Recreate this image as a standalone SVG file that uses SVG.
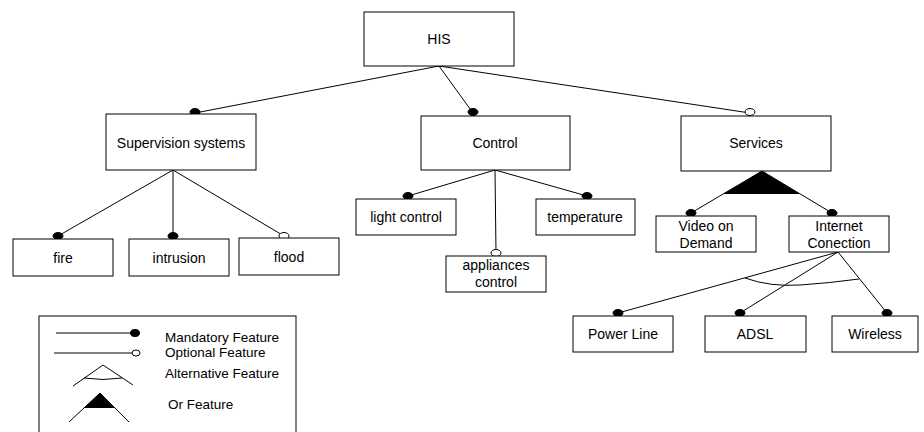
<svg xmlns="http://www.w3.org/2000/svg" width="924" height="432" viewBox="0 0 924 432">
<style>
.box{fill:#fff;stroke:#000;stroke-width:1}
.t{font-family:"Liberation Sans",Arial,sans-serif;font-size:14px;fill:#000;text-anchor:middle}
.lt{font-family:"Liberation Sans",Arial,sans-serif;font-size:13.5px;fill:#000}
.ln{stroke:#000;stroke-width:1;fill:none}
.m{fill:#000;stroke:#000}
.o{fill:#fff;stroke:#000;stroke-width:1}
</style>
<rect width="924" height="432" fill="#fff"/>
<g id="connectors">
<line class="ln" x1="439" y1="66" x2="195" y2="113"/>
<line class="ln" x1="439" y1="66" x2="473" y2="113"/>
<line class="ln" x1="439" y1="66" x2="750" y2="113"/>
<line class="ln" x1="173" y1="170" x2="58" y2="236"/>
<line class="ln" x1="173" y1="170" x2="173" y2="236"/>
<line class="ln" x1="173" y1="170" x2="284" y2="236"/>
<line class="ln" x1="495" y1="170" x2="408" y2="196"/>
<line class="ln" x1="495" y1="170" x2="587" y2="196"/>
<line class="ln" x1="495" y1="170" x2="496" y2="253"/>
<line class="ln" x1="762" y1="171" x2="691" y2="213"/>
<line class="ln" x1="762" y1="171" x2="832" y2="213"/>
<polygon points="762,171 723,194 800,194" fill="#000"/>
<line class="ln" x1="838" y1="252" x2="618" y2="313"/>
<line class="ln" x1="838" y1="252" x2="740" y2="313"/>
<line class="ln" x1="838" y1="252" x2="887" y2="313"/>
<path class="ln" d="M745,278 Q770,287 800,285 Q830,283 859,279"/>
<ellipse class="m" cx="195" cy="112" rx="5" ry="3.5"/>
<ellipse class="m" cx="473" cy="112" rx="5" ry="3.5"/>
<ellipse class="o" cx="750" cy="112" rx="5" ry="3.5"/>
<ellipse class="m" cx="58" cy="236" rx="5" ry="3.5"/>
<ellipse class="m" cx="173" cy="236" rx="5" ry="3.5"/>
<ellipse class="o" cx="284" cy="236" rx="5" ry="3.5"/>
<ellipse class="m" cx="408" cy="196" rx="5" ry="3.5"/>
<ellipse class="m" cx="587" cy="196" rx="5" ry="3.5"/>
<ellipse class="o" cx="496" cy="253" rx="5" ry="3.5"/>
<ellipse class="m" cx="691" cy="213" rx="5" ry="3.5"/>
<ellipse class="m" cx="832" cy="213" rx="5" ry="3.5"/>
<ellipse class="m" cx="618" cy="313" rx="5" ry="3.5"/>
<ellipse class="m" cx="740" cy="313" rx="5" ry="3.5"/>
<ellipse class="m" cx="887" cy="313" rx="5" ry="3.5"/>
</g>
<g id="his"><rect class="box" x="364" y="12" width="150" height="54"/><text class="t" x="439" y="44">HIS</text></g>
<g id="supervision"><rect class="box" x="106" y="114" width="150" height="56"/><text class="t" x="181" y="148">Supervision systems</text></g>
<g id="control"><rect class="box" x="421" y="116" width="149" height="54"/><text class="t" x="495" y="148">Control</text></g>
<g id="services"><rect class="box" x="681" y="116" width="150" height="55"/><text class="t" x="756" y="148">Services</text></g>
<g id="fire"><rect class="box" x="13" y="239" width="100" height="37"/><text class="t" x="63" y="263">fire</text></g>
<g id="intrusion"><rect class="box" x="129" y="239" width="100" height="37"/><text class="t" x="179" y="263">intrusion</text></g>
<g id="flood"><rect class="box" x="239" y="238" width="100" height="37"/><text class="t" x="289" y="262">flood</text></g>
<g id="light"><rect class="box" x="356" y="199" width="100" height="36"/><text class="t" x="406" y="222">light control</text></g>
<g id="temperature"><rect class="box" x="536" y="199" width="99" height="36"/><text class="t" x="585" y="222">temperature</text></g>
<g id="appliances"><rect class="box" x="446" y="256" width="100" height="36"/><text class="t" x="496" y="270">appliances</text><text class="t" x="496" y="287">control</text></g>
<g id="video"><rect class="box" x="656" y="216" width="100" height="36"/><text class="t" x="706" y="231">Video on</text><text class="t" x="706" y="248">Demand</text></g>
<g id="internet"><rect class="box" x="789" y="216" width="100" height="36"/><text class="t" x="839" y="231">Internet</text><text class="t" x="839" y="248">Conection</text></g>
<g id="powerline"><rect class="box" x="573" y="316" width="100" height="36"/><text class="t" x="623" y="339">Power Line</text></g>
<g id="adsl"><rect class="box" x="705" y="316" width="101" height="36"/><text class="t" x="755" y="339">ADSL</text></g>
<g id="wireless"><rect class="box" x="832" y="316" width="86" height="36"/><text class="t" x="875" y="339">Wireless</text></g>
<g id="legend">
<rect class="box" x="39" y="316" width="257" height="130"/>
<line class="ln" x1="56" y1="333" x2="132" y2="333"/>
<ellipse class="m" cx="135" cy="333" rx="4.5" ry="3.5"/>
<line class="ln" x1="54" y1="353" x2="132" y2="353"/>
<ellipse class="o" cx="136" cy="353" rx="4" ry="3"/>
<polyline class="ln" points="73,386 103,365 133,385"/>
<path class="ln" d="M84,378 Q103,381 122,378"/>
<polyline class="ln" points="69,422 100,393 129,422"/>
<polygon points="100,393 84,408 115,408" fill="#000"/>
<text class="lt" x="165" y="342">Mandatory Feature</text>
<text class="lt" x="165" y="357">Optional Feature</text>
<text class="lt" x="165" y="378">Alternative Feature</text>
<text class="lt" x="168" y="409">Or Feature</text>
</g>
</svg>
